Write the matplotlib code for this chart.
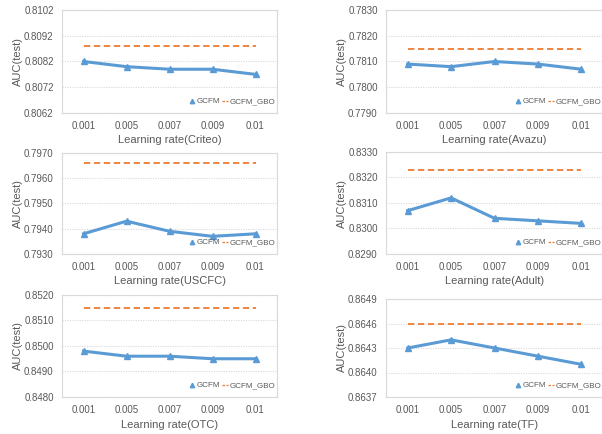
import matplotlib
matplotlib.use("Agg")
import matplotlib.pyplot as plt
import numpy as np

plt.rcParams["font.family"] = ["Liberation Sans", "DejaVu Sans"]

lr_labels = ["0.001", "0.005", "0.007", "0.009", "0.01"]

datasets = ["Criteo", "Avazu", "USCFC", "Adult", "OTC", "TF"]

gcfm_criteo = [0.8082, 0.8080, 0.8079, 0.8079, 0.8077]
gcfm_avazu = [0.7809, 0.7808, 0.7810, 0.7809, 0.7807]
gcfm_uscfc = [0.7938, 0.7943, 0.7939, 0.7937, 0.7938]
gcfm_adult = [0.8307, 0.8312, 0.8304, 0.8303, 0.8302]
gcfm_otc = [0.8498, 0.8496, 0.8496, 0.8495, 0.8495]
gcfm_tf = [0.8643, 0.8644, 0.8643, 0.8642, 0.8641]

gbo_criteo = [0.8088] * 5
gbo_avazu = [0.7815] * 5
gbo_uscfc = [0.7966] * 5
gbo_adult = [0.8323] * 5
gbo_otc = [0.8515] * 5
gbo_tf = [0.8646] * 5

yticks_criteo = [0.8062, 0.8072, 0.8082, 0.8092, 0.8102]
yticks_avazu = [0.7790, 0.7800, 0.7810, 0.7820, 0.7830]
yticks_uscfc = [0.7930, 0.7940, 0.7950, 0.7960, 0.7970]
yticks_adult = [0.8290, 0.8300, 0.8310, 0.8320, 0.8330]
yticks_otc = [0.8480, 0.8490, 0.8500, 0.8510, 0.8520]
yticks_tf = [0.8637, 0.8640, 0.8643, 0.8646, 0.8649]

gcfm_all = [gcfm_criteo, gcfm_avazu, gcfm_uscfc, gcfm_adult, gcfm_otc, gcfm_tf]
gbo_all = [gbo_criteo, gbo_avazu, gbo_uscfc, gbo_adult, gbo_otc, gbo_tf]
yticks_all = [yticks_criteo, yticks_avazu, yticks_uscfc, yticks_adult, yticks_otc, yticks_tf]

blue = "#5B9BD5"
orange = "#ED7D31"
txt = "#595959"
gridc = "#d9d9d9"

fig = plt.figure(figsize=(6.02, 4.34), dpi=100)
W, H = 602, 434
# axes boxes in pixels: left, top, right, bottom
boxes = [
    (62, 10, 277, 113), (386, 10, 603, 113),
    (62, 153, 277, 254), (386, 152, 603, 254),
    (62, 295, 277, 397), (386, 299, 603, 397),
]

x = np.arange(len(lr_labels))
for i, name in enumerate(datasets):
    l, t, r, b = boxes[i]
    aw, ah = r - l, b - t
    ax = fig.add_axes([l / W, 1 - b / H, aw / W, ah / H])
    ax.plot(x, gcfm_all[i], color=blue, lw=2.2, marker="^", ms=4.5, zorder=3)
    ax.plot(x, gbo_all[i], color=orange, lw=1.3, dashes=(3.5, 2), zorder=3)
    yt = yticks_all[i]
    ax.set_ylim(yt[0], yt[-1])
    ax.set_yticks(yt)
    ax.set_yticklabels([f"{v:.4f}" for v in yt])
    ax.set_xlim(-0.5, len(lr_labels) - 0.5)
    ax.set_xticks(x)
    ax.set_xticklabels(lr_labels)
    ax.yaxis.grid(True, color=gridc, ls=(0, (1, 1.2)), lw=0.8)
    ax.set_axisbelow(True)
    for s in ax.spines.values():
        s.set_color(gridc)
        s.set_linewidth(0.8)
    ax.tick_params(axis="y", length=0, labelsize=7, colors=txt, pad=6)
    ax.tick_params(axis="x", length=0, labelsize=7, colors=txt, pad=6)
    ax.set_ylabel("AUC(test)", fontsize=8, color=txt, labelpad=1)
    ax.set_xlabel(f"Learning rate({name})", fontsize=8, color=txt, labelpad=3)

    # legend drawn by hand, pixel offsets from the lower right corner
    ly = 12 / ah
    base = 10 / ah
    ax.plot([1 - 85 / aw], [ly], transform=ax.transAxes, color=blue,
            marker="^", ms=3.2, ls="none", clip_on=False)
    ax.text(1 - 80 / aw, base, "GCFM", transform=ax.transAxes, fontsize=5.8,
            color=txt, va="baseline", ha="left")
    ax.plot([1 - 55 / aw, 1 - 49 / aw], [ly, ly], transform=ax.transAxes,
            color=orange, lw=0.9, dashes=(2, 1.2), clip_on=False)
    ax.text(1 - 47 / aw, base, "GCFM_GBO", transform=ax.transAxes, fontsize=5.8,
            color=txt, va="baseline", ha="left")

fig.savefig("out.png", dpi=100)
